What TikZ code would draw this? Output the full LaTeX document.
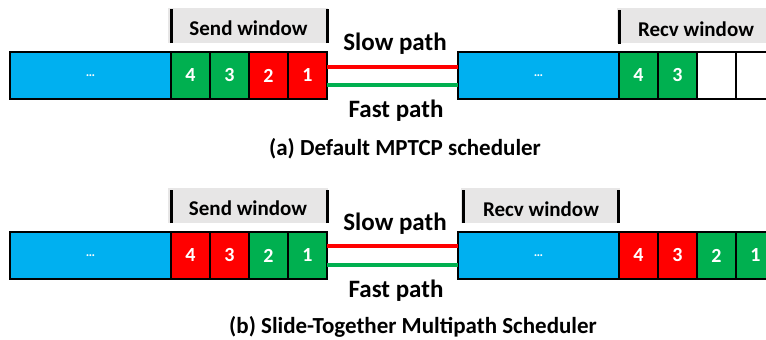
\documentclass[tikz,border=0pt]{standalone}
\usepackage{fontspec}
\setmainfont{Carlito}
\usetikzlibrary{positioning}

\definecolor{bufblue}{RGB}{0,176,240}
\definecolor{pktgreen}{RGB}{0,176,80}
\definecolor{pktred}{RGB}{255,0,0}
\definecolor{wingrey}{RGB}{231,230,230}

\tikzset{
  cell/.style={draw=black, line width=1.6pt, outer sep=0pt, inner sep=0pt,
    minimum width=39pt, minimum height=47pt, text=white,
    font=\fontsize{20}{22}\selectfont\bfseries},
  buffer/.style={cell, minimum width=161pt, fill=bufblue,
    font=\fontsize{13}{14}\selectfont\bfseries},
  gpkt/.style={cell, fill=pktgreen},
  rpkt/.style={cell, fill=pktred},
  epkt/.style={cell, fill=white},
  winbox/.style={fill=wingrey, inner sep=0pt, outer sep=0pt, minimum height=35pt},
  winlabel/.style={anchor=base, font=\fontsize{21}{24}\selectfont\bfseries},
  winbar/.style={line width=3pt, black},
  slowline/.style={line width=3.5pt, pktred},
  fastline/.style={line width=3.5pt, pktgreen},
  pathlabel/.style={anchor=base, font=\fontsize{25}{28}\selectfont\bfseries},
  caption/.style={anchor=base, font=\fontsize{23}{26}\selectfont\bfseries}
}

\begin{document}
\begin{tikzpicture}[x=1pt, y=-1pt]
  \useasboundingbox (0,0) rectangle (766,340);
  \clip (0,0) rectangle (766,340);

  % ---------- (a) default scheduler ----------
  % window shading
  \node[winbox, minimum width=160pt, anchor=north west] (aswin) at (168,8) {};
  \node[winbox, minimum width=160pt, anchor=north west] (arwin) at (617,8) {};
  % sender buffer
  \node[buffer, anchor=west] (asb) at (10,75.5) {…};
  \node[gpkt, right=0pt of asb] (as4) {4};
  \node[gpkt, right=0pt of as4] (as3) {3};
  \node[rpkt, right=0pt of as3] (as2) {2};
  \node[rpkt, right=0pt of as2] (as1) {1};
  % receiver buffer
  \node[buffer, anchor=west] (arb) at (458,75.5) {…};
  \node[gpkt, right=0pt of arb] (ar4) {4};
  \node[gpkt, right=0pt of ar4] (ar3) {3};
  \node[epkt, right=0pt of ar3] (ar2) {};
  \node[epkt, right=0pt of ar2] (ar1) {};
  % window edges
  \draw[winbar] ([yshift=9pt]as4.north west) -- ++(0,-34);
  \draw[winbar] ([yshift=9pt]as1.north east) -- ++(0,-34);
  \draw[winbar] ([yshift=8pt]ar4.north west) -- ++(0,-34);
  % window labels
  \node[winlabel] (aswl) at (248.5,35) {Send window};
  \node[winlabel] (arwl) at (696,36) {Recv window};
  % paths
  \draw[slowline] ([yshift=8.5pt]as1.east) -- ([yshift=8.5pt]arb.west);
  \draw[fastline] ([yshift=-9.5pt]as1.east) -- ([yshift=-9.5pt]arb.west);
  \node[pathlabel] (aslow) at (395,50) {Slow path};
  \node[pathlabel] (afast) at (396,117) {Fast path};
  \node[caption] (acap) at (405,155) {(a) Default MPTCP scheduler};

  % ---------- (b) slide-together scheduler ----------
  \node[winbox, minimum width=160pt, anchor=north west] (bswin) at (168,188) {};
  \node[winbox, minimum width=159pt, anchor=north west] (brwin) at (461,188) {};
  % sender buffer
  \node[buffer, anchor=west] (bsb) at (10,255.5) {…};
  \node[rpkt, right=0pt of bsb] (bs4) {4};
  \node[rpkt, right=0pt of bs4] (bs3) {3};
  \node[gpkt, right=0pt of bs3] (bs2) {2};
  \node[gpkt, right=0pt of bs2] (bs1) {1};
  % receiver buffer
  \node[buffer, anchor=west] (brb) at (458,255.5) {…};
  \node[rpkt, right=0pt of brb] (br4) {4};
  \node[rpkt, right=0pt of br4] (br3) {3};
  \node[gpkt, right=0pt of br3] (br2) {2};
  \node[gpkt, right=0pt of br2] (br1) {1};
  % window edges
  \draw[winbar] ([yshift=9pt]bs4.north west) -- ++(0,-33);
  \draw[winbar] ([yshift=9pt]bs1.north east) -- ++(0,-33);
  \draw[winbar] ([xshift=5pt,yshift=9pt]brb.north west) -- ++(0,-33);
  \draw[winbar] ([xshift=-1pt,yshift=9pt]brb.north east) -- ++(0,-33);
  % window labels
  \node[winlabel] (bswl) at (248,215) {Send window};
  \node[winlabel] (brwl) at (541,216) {Recv window};
  % paths
  \draw[slowline] ([yshift=9.5pt]bs1.east) -- ([yshift=9.5pt]brb.west);
  \draw[fastline] ([yshift=-9.5pt]bs1.east) -- ([yshift=-9.5pt]brb.west);
  \node[pathlabel] (bslow) at (395,230) {Slow path};
  \node[pathlabel] (bfast) at (396,297) {Fast path};
  \node[caption] (bcap) at (413,333) {(b) Slide-Together Multipath Scheduler};
\end{tikzpicture}
\end{document}
